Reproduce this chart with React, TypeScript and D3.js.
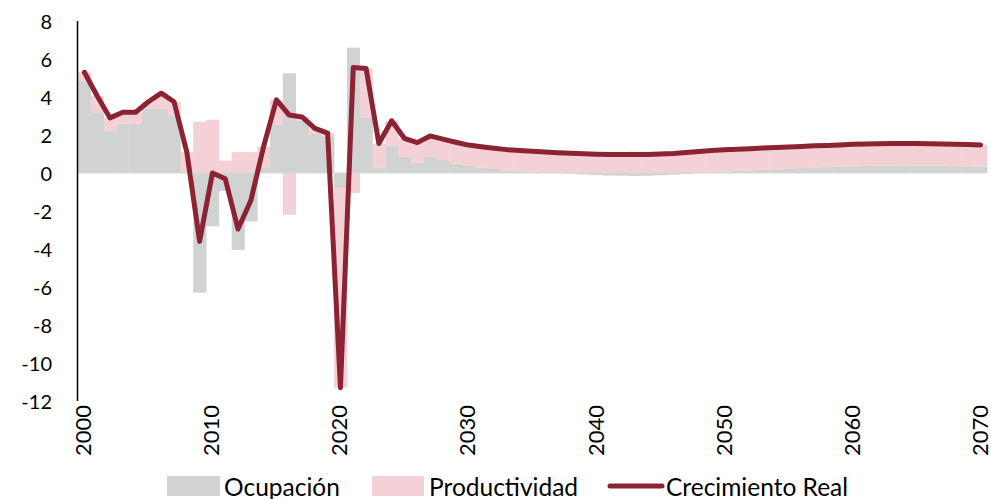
import * as d3 from "d3";

const years = d3.range(2000, 2071);

const ocupacion = [
  4.85, 3.2, 2.25, 2.6, 2.6, 3.4, 3.4, 3.0, 0.05, -6.3,
  -2.8, -0.95, -4.05, -2.55, 0.3, 2.55, 5.25, 2.75, 2.05, 1.9,
  -0.8, 6.6, 2.9, 0.3, 1.45, 0.85, 0.55, 0.85, 0.68, 0.5,
  0.37, 0.28, 0.21, 0.14, 0.1, 0.07, 0.04, 0.0, -0.04, -0.08,
  -0.11, -0.13, -0.14, -0.15, -0.14, -0.12, -0.09, -0.05, -0.01, 0.03,
  0.07, 0.11, 0.14, 0.17, 0.2, 0.23, 0.26, 0.29, 0.31, 0.33,
  0.35, 0.37, 0.38, 0.39, 0.4, 0.4, 0.39, 0.38, 0.36, 0.35,
  0.33,
];

const productividad = [
  0.45, 0.85, 0.65, 0.6, 0.6, 0.35, 0.8, 0.75, 1.05, 2.7,
  2.8, 0.65, 1.1, 1.1, 1.1, 1.3, -2.2, 0.2, 0.3, 0.2,
  -10.5, -1.05, 2.6, 1.25, 1.3, 0.97, 1.05, 1.1, 1.1, 1.12,
  1.1, 1.1, 1.09, 1.09, 1.09, 1.07, 1.06, 1.07, 1.08, 1.09,
  1.1, 1.11, 1.11, 1.12, 1.12, 1.12, 1.12, 1.13, 1.14, 1.15,
  1.15, 1.14, 1.14, 1.14, 1.14, 1.14, 1.14, 1.14, 1.14, 1.15,
  1.16, 1.16, 1.16, 1.16, 1.15, 1.15, 1.15, 1.15, 1.15, 1.15,
  1.15,
];

const crecimientoReal = [
  5.3, 4.05, 2.9, 3.2, 3.2, 3.75, 4.2, 3.75, 1.1, -3.6,
  0.0, -0.3, -2.95, -1.45, 1.4, 3.85, 3.05, 2.95, 2.35, 2.1,
  -11.3, 5.55, 5.5, 1.55, 2.75, 1.82, 1.6, 1.95, 1.78, 1.62,
  1.47, 1.38, 1.3, 1.23, 1.19, 1.14, 1.1, 1.07, 1.04, 1.01,
  0.99, 0.98, 0.97, 0.97, 0.98, 1.0, 1.03, 1.08, 1.13, 1.18,
  1.22, 1.25, 1.28, 1.31, 1.34, 1.37, 1.4, 1.43, 1.45, 1.48,
  1.51, 1.53, 1.54, 1.55, 1.55, 1.55, 1.54, 1.53, 1.51, 1.5,
  1.48,
];

const yTicks = [8, 6, 4, 2, 0, -2, -4, -6, -8, -10, -12];
const xTickYears = [2000, 2010, 2020, 2030, 2040, 2050, 2060, 2070];

const GRAY = "#d1d3d2";
const PINK = "#f3d1d6";
const RED = "#8c2332";
const FONT = "Lato, 'Open Sans', sans-serif";

export default function App() {
  const width = 991;
  const height = 499;

  const x = d3.scaleBand<number>().domain(years).range([78, 987]).padding(0);
  const y = d3.scaleLinear().domain([-12, 8]).range([401, 21]);
  const bw = x.bandwidth();

  const rows = years.map((year, i) => ({
    year,
    ocupacion: ocupacion[i],
    productividad: productividad[i],
  }));
  const series = d3
    .stack<any>()
    .keys(["ocupacion", "productividad"])
    .offset(d3.stackOffsetDiverging)(rows);
  const colors: Record<string, string> = { ocupacion: GRAY, productividad: PINK };

  const linePath = d3
    .line<number>()
    .x((_, i) => (x(years[i]) ?? 0) + bw / 2)
    .y((d) => y(d))(crecimientoReal);

  return (
    <svg
      width={width}
      height={height}
      style={{ position: "absolute", left: 0, top: 0, background: "#fff" }}
      fontFamily={FONT}
    >
      {series.map((s) => (
        <g key={s.key} fill={colors[s.key]}>
          {s.map((d, i) => {
            const top = y(Math.max(d[0], d[1]));
            const bottom = y(Math.min(d[0], d[1]));
            return (
              <rect
                key={i}
                x={x(years[i])}
                y={top}
                width={bw + 0.4}
                height={Math.max(0, bottom - top)}
              />
            );
          })}
        </g>
      ))}

      <line x1={78} x2={987} y1={y(0)} y2={y(0)} stroke="#d9d9d9" strokeWidth={1} />
      <line x1={77.5} x2={77.5} y1={y(8)} y2={y(-12)} stroke="#000" strokeWidth={1.5} />

      <path
        d={linePath ?? ""}
        fill="none"
        stroke={RED}
        strokeWidth={5}
        strokeLinejoin="round"
        strokeLinecap="round"
      />

      {yTicks.map((t) => (
        <text
          key={t}
          x={52}
          y={y(t)}
          textAnchor="end"
          dominantBaseline="central"
          fontSize={20}
          fill="#000"
        >
          {t}
        </text>
      ))}

      {xTickYears.map((yr) => {
        const cx = (x(yr) ?? 0) + bw / 2 - 1.5;
        return (
          <text
            key={yr}
            transform={`translate(${cx},405) rotate(-90)`}
            textAnchor="end"
            dominantBaseline="central"
            fontSize={22}
            fill="#000"
          >
            {yr}
          </text>
        );
      })}

      <g fontSize={24.5} fill="#000">
        <rect x={167} y={476} width={53} height={20} fill={GRAY} />
        <text x={224} y={486} dominantBaseline="central">Ocupación</text>
        <rect x={372} y={476} width={52} height={20} fill={PINK} />
        <text x={429} y={486} dominantBaseline="central">Productividad</text>
        <line x1={610} x2={662} y1={486} y2={486} stroke={RED} strokeWidth={5} strokeLinecap="round" />
        <text x={666} y={486} dominantBaseline="central">Crecimiento Real</text>
      </g>
    </svg>
  );
}
